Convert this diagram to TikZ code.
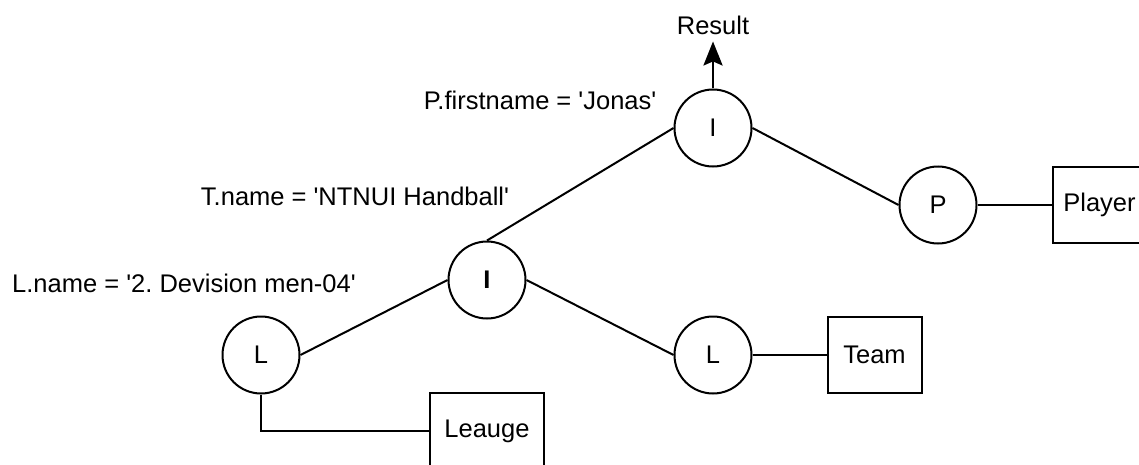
\documentclass[tikz,border=0pt]{standalone}
\usepackage{fontspec}
\setmainfont{Liberation Sans}
\usetikzlibrary{arrows.meta,positioning}
\frenchspacing

\begin{document}
\begin{tikzpicture}[
    x=0.5pt, y=-0.5pt,
    every node/.style={font=\fontsize{12.75}{15}\selectfont},
    op/.style={draw, circle, line width=1pt, minimum size=38.5pt, inner sep=0pt},
    rel/.style={draw, rectangle, line width=1pt, minimum width=47pt, minimum height=38pt, inner sep=0pt},
    lnk/.style={line width=1pt},
    resarr/.style={-{Stealth[length=12pt, width=9.5pt, inset=2pt]}, line width=1.4pt},
]
\useasboundingbox (0,0) rectangle (1139,465);

% Operators
\node[op] (join1) at (713,128) {I};
\node[op] (sel1) at (938,205) {P};
\node[op] (join2) at (487,280) {\textbf{I}};
\node[op] (sel2) at (261,355) {L};
\node[op] (sel3) at (713,355) {L};

% Relations
\node[rel, right=37pt of sel1] (player) {Player};
\node[rel, right=37pt of sel3] (team) {Team};
\node[rel, minimum width=57pt] (leauge) at (487,431) {Leauge};

% Result and conditions
\node (result) at (713,25) {Result};
\node (cond1) at (540,100) {P.firstname = \textquotesingle Jonas\textquotesingle};
\node (cond2) at (355,196) {T.name = \textquotesingle NTNUI Handball\textquotesingle};
\node (cond3) at (184,283) {L.name = \textquotesingle 2. Devision men-04\textquotesingle};

% Tree edges
\draw[resarr] (join1) -- (result);
\draw[lnk] (join1.west) -- (join2.north);
\draw[lnk] (join1.east) -- (sel1.west);
\draw[lnk] (join2.west) -- (sel2.east);
\draw[lnk] (join2.east) -- (sel3.west);
\draw[lnk] (sel1) -- (player);
\draw[lnk] (sel3) -- (team);
\draw[lnk] (sel2.south) |- (leauge.west);
\end{tikzpicture}
\end{document}
